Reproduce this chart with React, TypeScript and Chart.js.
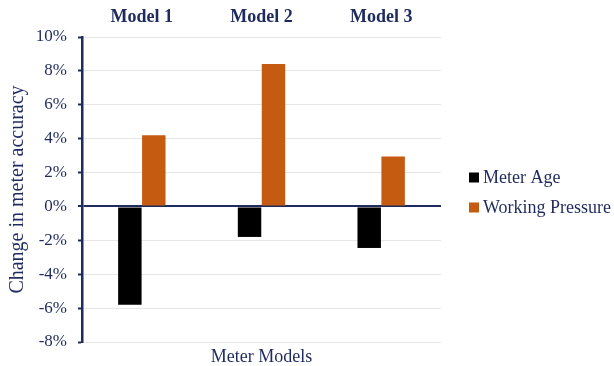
import React, { useEffect, useRef } from "react";
import { Chart, registerables } from "chart.js";

Chart.register(...registerables);

const models = ["Model 1", "Model 2", "Model 3"];
const meterAge = [-5.8, -1.8, -2.45];
const workingPressure = [4.2, 8.4, 2.95];
const yMin = -8;
const yMax = 10;
const yStep = 2;

const NAVY = "#1f2a5e";
const SERIF = "'Liberation Serif', 'Times New Roman', serif";

// Legend drawn to the right of the plot area, with room for long labels.
const sideLegend = {
  id: "sideLegend",
  afterDraw(chart: any) {
    const { ctx, chartArea } = chart;
    const boxSize = 10;
    const rowGap = 30;
    const x = chartArea.right + 28;
    const midY = (chartArea.top + chartArea.bottom) / 2;
    const firstY = midY - 12;
    ctx.save();
    ctx.font = `18px ${SERIF}`;
    ctx.textBaseline = "middle";
    ctx.textAlign = "left";
    chart.data.datasets.forEach((ds: any, i: number) => {
      const y = firstY + i * rowGap;
      ctx.fillStyle = ds.backgroundColor;
      ctx.fillRect(x, y - boxSize / 2, boxSize, boxSize);
      ctx.fillStyle = NAVY;
      ctx.fillText(ds.label, x + boxSize + 4, y + 1);
    });
    ctx.restore();
  },
};

export default function App() {
  const canvasRef = useRef<HTMLCanvasElement | null>(null);

  useEffect(() => {
    if (!canvasRef.current) return;
    const chart = new Chart(canvasRef.current, {
      type: "bar",
      data: {
        labels: models,
        datasets: [
          {
            label: "Meter Age",
            data: meterAge,
            backgroundColor: "#000000",
            categoryPercentage: 0.4,
            barPercentage: 0.98,
          },
          {
            label: "Working Pressure",
            data: workingPressure,
            backgroundColor: "#c55a11",
            categoryPercentage: 0.4,
            barPercentage: 0.98,
          },
        ],
      },
      options: {
        animation: false,
        responsive: true,
        maintainAspectRatio: false,
        layout: { padding: { left: 6, right: 173, top: 6, bottom: 0 } },
        plugins: {
          tooltip: { enabled: false },
          legend: { display: false },
          title: {
            display: true,
            text: "Meter Models",
            position: "bottom",
            fullSize: false,
            color: NAVY,
            font: { family: SERIF, size: 18, weight: "normal", lineHeight: 1 },
            padding: { top: 6, bottom: 0 },
          },
        },
        scales: {
          x: {
            position: "top",
            grid: { display: false, drawTicks: false },
            border: { display: false },
            ticks: {
              color: NAVY,
              font: { family: SERIF, size: 18, weight: "bold" },
              padding: 9,
            },
            afterFit: (scale: any) => {
              scale.height = 31;
            },
          },
          y: {
            min: yMin,
            max: yMax,
            ticks: {
              stepSize: yStep,
              color: NAVY,
              font: { family: SERIF, size: 17 },
              padding: 11,
              callback: (v: any) => `${v}%`,
            },
            grid: {
              color: (ctx: any) => (ctx.tick && ctx.tick.value === 0 ? NAVY : "#e6e6e6"),
              lineWidth: (ctx: any) => (ctx.tick && ctx.tick.value === 0 ? 2 : 1),
              tickColor: NAVY,
              tickLength: 4,
              tickWidth: 2,
            },
            border: { display: true, color: NAVY, width: 2.5 },
            title: {
              display: true,
              text: "Change in meter accuracy",
              color: NAVY,
              font: { family: SERIF, size: 20 },
              padding: { top: 0, bottom: 6 },
            },
            afterFit: (scale: any) => {
              scale.width = 76;
            },
          },
        },
      },
      plugins: [sideLegend],
    });
    return () => chart.destroy();
  }, []);

  return (
    <div style={{ position: "fixed", left: 0, top: 0, width: 614, height: 366, background: "#fff" }}>
      <canvas ref={canvasRef} />
    </div>
  );
}
